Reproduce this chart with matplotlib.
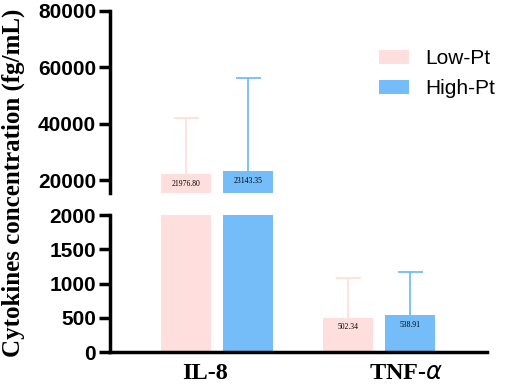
import matplotlib
matplotlib.use("Agg")
import matplotlib.pyplot as plt
import numpy as np

categories = ["IL-8", "TNF-$\\mathit{\\alpha}$"]
groups = ["Low-Pt", "High-Pt"]
low_vals = [21976.80, 502.34]
high_vals = [23143.35, 538.91]
low_err = [20000, 580]
high_err = [33000, 630]
colors = ["#FFDEDE", "#74BDF8"]

fig = plt.figure(figsize=(5.12, 3.9), dpi=100)
L, R = 110/512, 487/512
ax_top = fig.add_axes([L, (390-193)/390, R-L, (193-11)/390])
ax_bot = fig.add_axes([L, (390-352)/390, R-L, (352-215)/390])

x = np.arange(len(categories))
w = 0.309
off = 0.191
tick_font = dict(family="Liberation Sans", weight="bold", size=15)

handles = []
for ax in (ax_top, ax_bot):
    handles = []
    for vals, errs, c, sgn, g in ((low_vals, low_err, colors[0], -1, groups[0]),
                                  (high_vals, high_err, colors[1], 1, groups[1])):
        pos = x + sgn*off
        b = ax.bar(pos, vals, width=w, color=c, label=g, zorder=2)
        handles.append(b)
        eb = ax.errorbar(pos, vals, yerr=[np.zeros(len(vals)), errs], fmt="none",
                         ecolor=c, elinewidth=1.3, capsize=9, capthick=1.3, zorder=1)
        eb[1][0].set_visible(False)
    ax.set_xlim(-0.66, 1.667)
    ax.spines["top"].set_visible(False)
    ax.spines["right"].set_visible(False)
    ax.spines["left"].set_linewidth(2.5)
    ax.spines["bottom"].set_linewidth(2.5)
    ax.tick_params(axis="y", length=8, width=2.5, pad=2)

ax_top.set_ylim(15400, 80000)
ax_top.set_yticks([20000, 40000, 60000, 80000])
ax_top.spines["bottom"].set_visible(False)
ax_top.set_xticks([])
ax_bot.set_ylim(0, 2000)
ax_bot.set_yticks([0, 500, 1000, 1500, 2000])
ax_bot.set_xticks(x + np.array([-0.074, 0.167]))
ax_bot.set_xticklabels(categories, family="Liberation Serif", weight="bold", size=17.5)
ax_bot.tick_params(axis="x", length=0, pad=8)
for ax in (ax_top, ax_bot):
    ax.set_yticklabels([str(int(t)) for t in ax.get_yticks()], **tick_font)

# value labels
for vals, sgn in ((low_vals, -1), (high_vals, 1)):
    for i, v in enumerate(vals):
        ax = ax_top if v > 2000 else ax_bot
        ax.annotate(f"{v:.2f}", (x[i] + sgn*off, v), xytext=(0, -4),
                    textcoords="offset points", ha="center", va="top",
                    family="Liberation Serif", size=5.5, zorder=3)

fig.legend(handles, groups, loc="upper left", bbox_to_anchor=(379/512, 1-49/390),
           frameon=False, prop=dict(family="Liberation Sans", size=15),
           handlelength=1.45, handleheight=0.68, handletextpad=0.75,
           labelspacing=0.55, borderpad=0, borderaxespad=0)

fig.text(0.026, 0.53, "Cytokines concentration (fg/mL)", rotation=90,
         ha="center", va="center", family="Liberation Serif", weight="bold", size=18)

fig.savefig("out.png", dpi=100)
